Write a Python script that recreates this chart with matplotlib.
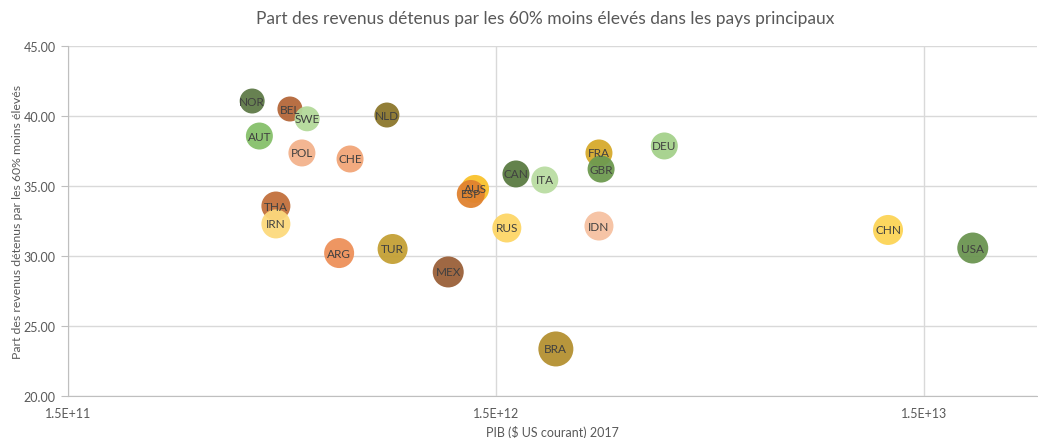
import matplotlib
matplotlib.use("Agg")
import matplotlib.pyplot as plt
from matplotlib.ticker import FixedLocator, FixedFormatter, FormatStrFormatter

plt.rcParams['font.family'] = ['Lato', 'DejaVu Sans']

countries = ["NOR", "BEL", "SWE", "NLD", "AUT", "POL", "CHE", "THA", "IRN", "ARG",
             "TUR", "MEX", "AUS", "ESP", "CAN", "ITA", "RUS", "FRA", "GBR", "DEU",
             "IDN", "BRA", "CHN", "USA"]
gdp = [4.04e11, 4.95e11, 5.43e11, 8.34e11, 4.20e11, 5.28e11, 6.84e11, 4.59e11, 4.59e11, 6.45e11,
       8.60e11, 1.16e12, 1.34e12, 1.31e12, 1.67e12, 1.95e12, 1.59e12, 2.61e12, 2.64e12, 3.71e12,
       2.61e12, 2.07e12, 1.236e13, 1.95e13]
share = [41.07, 40.50, 39.80, 40.07, 38.57, 37.36, 36.93, 33.57, 32.29, 30.21,
         30.50, 28.86, 34.79, 34.43, 35.86, 35.43, 32.00, 37.36, 36.21, 37.86,
         32.14, 23.36, 31.86, 30.57]
diam_px = [25, 25, 25, 25, 27, 27, 27, 29, 29, 30,
           30, 31, 28, 28, 27, 27, 29, 27, 27, 27,
           29, 35, 30, 31]
colors = ["#5f7a48", "#b4673a", "#b3d99a", "#8c772c", "#86c06a", "#f3b28c", "#f2a678", "#c2703c", "#fcd97c", "#ee9059",
          "#c4a035", "#9a6039", "#f9c22c", "#e0822f", "#5b7b42", "#badda2", "#fdd667", "#d6aa2c", "#6e9a50", "#a5d18b",
          "#f6c1a1", "#b49031", "#fcd456", "#6b9551"]

x_ticks = [1.5e11, 1.5e12, 1.5e13]
x_tick_labels = ["1.5E+11", "1.5E+12", "1.5E+13"]
y_ticks = [20, 25, 30, 35, 40, 45]

fig = plt.figure(figsize=(10.38, 4.39), dpi=100)
ax = fig.add_axes([68/1038, 42/439, 969/1038, 350/439])
ax.set_xscale('log')
ax.set_xlim(1.5e11, 1.5e11 * 10 ** (969 / 428))
ax.set_ylim(20, 45)

sizes = [(d * 0.72) ** 2 for d in diam_px]
ax.scatter(gdp, share, s=sizes, c=colors, edgecolors='none', alpha=0.95, zorder=3)
for c, xv, yv in zip(countries, gdp, share):
    ax.text(xv, yv, c, ha='center', va='center', fontsize=8.5, color='#404040', zorder=4)

ax.xaxis.set_major_locator(FixedLocator(x_ticks))
ax.xaxis.set_major_formatter(FixedFormatter(x_tick_labels))
ax.xaxis.set_minor_locator(FixedLocator([]))
ax.set_yticks(y_ticks)
ax.yaxis.set_major_formatter(FormatStrFormatter('%.2f'))

ax.grid(True, color='#d9d9d9', linewidth=1, zorder=0)
ax.set_axisbelow(True)
for side in ['top', 'right']:
    ax.spines[side].set_visible(False)
ax.spines['left'].set_color('#bfbfbf')
ax.spines['bottom'].set_color('#bfbfbf')
ax.tick_params(axis='y', colors='#595959', labelsize=9, length=5, color='#bfbfbf', pad=4)
ax.tick_params(axis='x', colors='#595959', labelsize=9, length=0, pad=8)

ax.set_xlabel("PIB ($ US courant) 2017", fontsize=9, color='#595959', labelpad=4)
ax.set_ylabel("Part des revenus détenus par les 60% moins élevés", fontsize=8.8, color='#595959')
ax.yaxis.set_label_coords(-45/969, 0.5)
fig.text(545/1038, 1 - 19/439, "Part des revenus détenus par les 60% moins élevés dans les pays principaux",
         ha='center', va='center', fontsize=12.5, color='#595959')

fig.savefig("out.png", dpi=100)
